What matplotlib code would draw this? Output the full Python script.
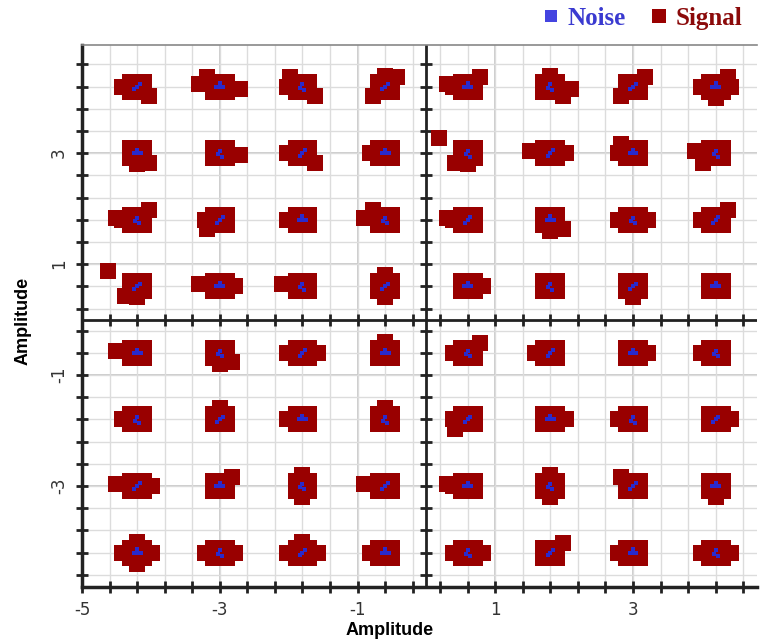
import matplotlib
matplotlib.use("Agg")
import matplotlib.pyplot as plt
import numpy as np
from matplotlib.ticker import FixedLocator, FuncFormatter

# 64-QAM constellation levels (same on I and Q axes)
levels_x = [-4.2, -3.0, -1.8, -0.6, 0.6, 1.8, 3.0, 4.2]
levels_y = [4.2, 3.0, 1.8, 0.6, -0.6, -1.8, -3.0, -4.2]

# core block of every received cluster
core_dx = [-0.1, 0.1, -0.1, 0.1, 0.0]
core_dy = [0.09, 0.09, -0.09, -0.09, 0.0]

# extra squares sticking out of each cluster (one string per symbol)
tail_codes = [
    ["Lc", "WEb", "bLc", "adU", "WLa", "EcU", "da", "LRaD"],
    ["Dc", "E", "Lc", "L", "NDd", "WR", "Lb", "dW"],
    ["WLa", "Ld", "L", "bW", "WL", "Dc", "LR", "aL"],
    ["NdD", "WR", "W", "UD", "R", "", "D", ""],
    ["W", "cD", "LR", "U", "aL", "L", "R", "L"],
    ["L", "U", "L", "U", "dL", "R", "L", "R"],
    ["WR", "a", "UD", "W", "WL", "UD", "b", "D"],
    ["LRUD", "LR", "LRU", "L", "LR", "a", "L", "LR"],
]
tail_offsets = {
    "R": (0.22, 0.0), "L": (-0.22, 0.0), "U": (0.0, 0.2), "D": (0.0, -0.2),
    "E": (0.3, -0.04), "W": (-0.3, 0.04),
    "a": (0.18, 0.17), "b": (-0.18, 0.17), "c": (0.18, -0.17), "d": (-0.18, -0.17),
    "N": (-0.42, 0.28),
}

# small noise samples around each ideal point
noise_patterns = [
    ([0.0, 0.04, -0.04], [0.0, 0.05, -0.05]),
    ([0.0, 0.05, -0.05, 0.0], [0.0, 0.0, 0.0, 0.06]),
    ([0.0, -0.03, 0.03], [0.04, -0.02, -0.06]),
]
noise_kind = ["01201201", "12012012", "20120120", "01201201",
              "12012012", "20120120", "01201201", "12012012"]

signal_color = "#990000"
noise_color = "#2a2acc"

fig = plt.figure(figsize=(7.63, 6.4), dpi=100)
ax = fig.add_axes([82 / 763, 53 / 640, 675 / 763, 542 / 640])

sig_x, sig_y, noi_x, noi_y = [], [], [], []
for r, y0 in enumerate(levels_y):
    for c, x0 in enumerate(levels_x):
        dx = list(core_dx)
        dy = list(core_dy)
        for code in tail_codes[r][c]:
            ox, oy = tail_offsets[code]
            dx.append(ox)
            dy.append(oy)
        sig_x += [x0 + v for v in dx]
        sig_y += [y0 + v for v in dy]
        nx, ny = noise_patterns[int(noise_kind[r][c])]
        noi_x += [x0 + v for v in nx]
        noi_y += [y0 + v for v in ny]

ax.plot(sig_x, sig_y, ls="none", marker="s", ms=11, mew=0,
        color=signal_color, label="Signal", zorder=3)
ax.plot(noi_x, noi_y, ls="none", marker="s", ms=3, mew=0,
        color=noise_color, label="Noise", zorder=4)

ax.set_xlim(-5, 4.8)
ax.set_ylim(-4.82, 4.95)

ticks = np.round(np.arange(-5, 5.01, 0.4), 2)
x_labels = [-5, -3, -1, 1, 3]
y_labels = [3, 1, -1, -3]
ax.xaxis.set_major_locator(FixedLocator(ticks))
ax.yaxis.set_major_locator(FixedLocator(ticks))
ax.xaxis.set_major_formatter(FuncFormatter(
    lambda v, p: f"{int(round(v))}" if any(abs(v - t) < 1e-6 for t in x_labels) else ""))
ax.yaxis.set_major_formatter(FuncFormatter(
    lambda v, p: f"{int(round(v))}" if any(abs(v - t) < 1e-6 for t in y_labels) else ""))

ax.grid(True, color="#dcdcdc", lw=1.0, zorder=0)
for t in x_labels:
    ax.axvline(t, color="#c4c4c4", lw=1.2, zorder=0)
for t in y_labels:
    ax.axhline(t, color="#c4c4c4", lw=1.2, zorder=0)

# centre axes with their own tick marks
ax.axhline(0, color="#222222", lw=2, zorder=2)
ax.axvline(0, color="#222222", lw=2, zorder=2)
ax.plot(np.zeros(len(ticks)), ticks, ls="none", marker="_", ms=8, mew=2, color="#222222", zorder=2)
ax.plot(ticks, np.zeros(len(ticks)), ls="none", marker="|", ms=8, mew=2, color="#222222", zorder=2)

for side in ["left", "bottom"]:
    ax.spines[side].set_linewidth(2.5)
    ax.spines[side].set_color("#222222")
ax.spines["right"].set_visible(False)
ax.spines["top"].set_linestyle((0, (1, 1)))
ax.spines["top"].set_color("#888888")
ax.spines["top"].set_linewidth(1.2)

ax.tick_params(direction="inout", length=8, width=2, color="#222222",
               labelsize=12, labelcolor="#333333")
ax.tick_params(axis="x", pad=6)
ax.tick_params(axis="y", pad=6)
for lab in ax.get_yticklabels():
    lab.set_rotation(90)
    lab.set_va("center")

ax.set_xlabel("Amplitude", fontsize=13, fontweight="bold", family="Liberation Sans")
ax.xaxis.set_label_coords(0.456, -0.065)
ax.set_ylabel("Amplitude", fontsize=13, fontweight="bold", family="Liberation Sans")
ax.yaxis.set_label_coords(-0.075, 0.49)

handles, labels = ax.get_legend_handles_labels()
leg = ax.legend(handles[::-1], labels[::-1], loc="lower right", bbox_to_anchor=(1.0, 1.0),
                frameon=False, ncol=2, handlelength=0.7, handletextpad=0.3,
                columnspacing=1.0, borderaxespad=0.2, markerscale=1.0,
                prop={"family": "Liberation Serif", "weight": "bold", "size": 18})
leg.legend_handles[0].set_markersize(8)
leg.legend_handles[0].set_color("#4444e0")
leg.legend_handles[1].set_markersize(10)
leg.get_texts()[0].set_color("#3a3ad0")
leg.get_texts()[1].set_color("#8b0a0a")

fig.savefig("out.png", dpi=100)
